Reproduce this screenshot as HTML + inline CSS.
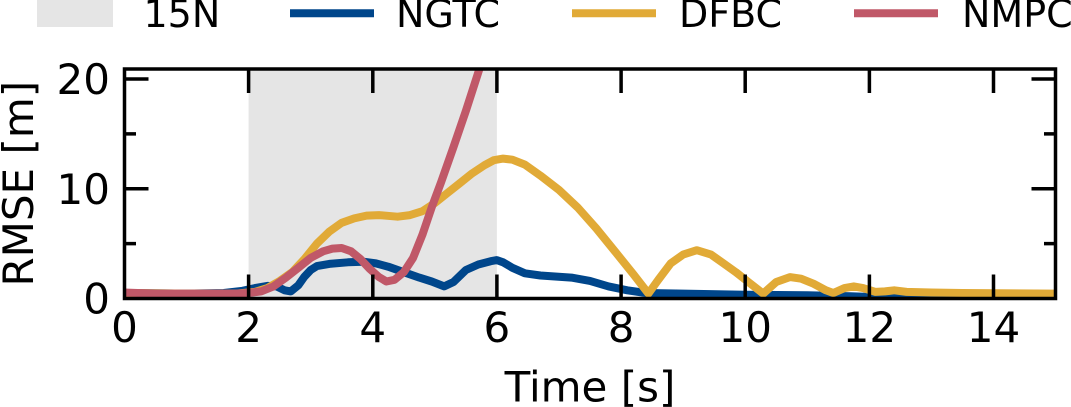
<!DOCTYPE html>
<html>
<head>
<meta charset="utf-8">
<style>
  html, body { margin: 0; padding: 0; background: #ffffff; }
  svg { display: block; }
  text { font-family: "DejaVu Sans", "Liberation Sans", sans-serif; fill: #000; }
</style>
</head>
<body>
<svg width="1071" height="407" viewBox="0 0 1071 407" xmlns="http://www.w3.org/2000/svg">
  <rect x="0" y="0" width="1071" height="407" fill="#ffffff"/>
  <defs>
    <clipPath id="ax">
      <rect x="124.5" y="69" width="931" height="229.5"/>
    </clipPath>
  </defs>

  <!-- shaded 15N region -->
  <rect x="248.6" y="69" width="248.3" height="229.5" fill="#e5e5e5"/>

  <!-- data series -->
  <g clip-path="url(#ax)" fill="none" stroke-linejoin="round" stroke-linecap="butt" stroke-width="8">
    <polyline stroke="#00468b"
      points="124.5,293.0 186.6,293.6 223.8,293.0 242.4,290.8 254.8,288.1 267.3,285.9 276.6,286.4 284.6,290.3 290.8,291.4 298.3,285.3 304.5,276.6 310.7,270.0 316.9,266.1 329.3,263.9 347.9,262.3 363.5,261.7 375.9,263.4 388.3,266.7 403.8,272.2 419.3,277.6 431.7,281.5 444.2,286.4 453.5,282.0 465.9,270.0 478.3,264.5 490.7,261.2 496.9,260.1 503.1,262.3 512.4,267.8 524.9,273.3 540.4,275.5 571.4,277.6 590.0,280.9 608.6,286.4 627.3,290.3 645.9,293.0 683.1,293.6 745.2,294.7 807.3,295.2 850.7,296.3 881.8,297.4 1055.6,297.4"/>
    <polyline stroke="#e1aa37"
      points="124.5,293.0 186.6,293.6 236.2,293.6 254.8,291.9 267.3,288.1 279.7,280.9 292.1,272.2 304.5,259.0 316.9,243.6 329.3,231.6 341.7,222.8 354.2,218.4 366.6,215.6 379.0,215.1 397.6,216.7 410.0,215.1 422.4,211.2 434.9,203.0 447.3,193.1 459.7,183.3 472.1,173.4 484.5,165.2 493.8,160.2 503.1,158.6 512.4,159.7 524.9,164.6 540.4,175.6 559.0,189.9 577.6,207.4 596.2,228.3 614.9,251.3 633.5,274.4 648.4,293.6 658.3,279.8 670.7,263.4 683.1,254.6 696.8,250.2 711.1,254.6 723.5,263.4 735.9,272.2 748.3,282.0 763.2,293.6 776.2,282.0 789.9,277.1 801.1,278.7 813.5,283.7 825.9,290.3 833.3,293.0 844.5,288.1 853.8,286.4 863.1,288.1 875.5,291.9 884.9,291.4 894.2,290.3 906.6,291.9 931.4,292.5 962.4,293.0 1055.6,293.6"/>
    <polyline stroke="#c05868"
      points="124.5,292.5 155.5,293.6 236.2,293.6 248.6,293.0 261.1,291.4 273.5,286.4 285.9,277.6 298.3,267.8 310.7,257.9 323.1,251.3 332.4,248.6 341.7,248.0 351.1,251.3 360.4,259.0 369.7,268.9 379.0,277.1 386.4,281.5 394.5,279.8 403.8,272.2 413.1,257.9 422.4,234.8 431.7,207.4 441.1,182.2 453.5,147.0 465.9,110.8 478.3,72.4 487.6,42.8"/>
  </g>

  <!-- ticks -->
  <g stroke="#000" stroke-width="3.5" fill="none">
    <path d="M248.6,298.5V274.5 M372.8,298.5V274.5 M496.9,298.5V274.5 M621.1,298.5V274.5 M745.2,298.5V274.5 M869.4,298.5V274.5 M993.5,298.5V274.5"/>
    <path d="M248.6,69V93 M372.8,69V93 M496.9,69V93 M621.1,69V93 M745.2,69V93 M869.4,69V93 M993.5,69V93"/>
    <path d="M124.5,188.75H148.5 M124.5,79H148.5 M1055.5,188.75H1031.5 M1055.5,79H1031.5"/>
    <path d="M124.5,243.6H136 M124.5,133.9H136 M1055.5,243.6H1044 M1055.5,133.9H1044"/>
  </g>

  <!-- spines -->
  <rect x="124.5" y="69" width="931" height="229.5" fill="none" stroke="#000" stroke-width="3.5"/>

  <!-- y tick labels -->
  <g font-size="42" text-anchor="end">
    <text x="110" y="94">20</text>
    <text x="110" y="204">10</text>
    <text x="110" y="313.5">0</text>
  </g>

  <!-- x tick labels -->
  <g font-size="42" text-anchor="middle">
    <text x="124.5" y="342">0</text>
    <text x="248.6" y="342">2</text>
    <text x="372.8" y="342">4</text>
    <text x="496.9" y="342">6</text>
    <text x="621.1" y="342">8</text>
    <text x="745.2" y="342">10</text>
    <text x="869.4" y="342">12</text>
    <text x="993.5" y="342">14</text>
  </g>

  <!-- axis labels -->
  <text x="590" y="401.5" font-size="42" text-anchor="middle">Time [s]</text>
  <text transform="translate(33,183.7) rotate(-90)" x="0" y="0" font-size="42" text-anchor="middle">RMSE [m]</text>

  <!-- legend -->
  <rect x="37" y="0" width="76" height="27" fill="#e5e5e5"/>
  <text x="143.5" y="27" font-size="38">15N</text>
  <line x1="290" y1="13.3" x2="374" y2="13.3" stroke="#00468b" stroke-width="8"/>
  <text x="396" y="27" font-size="38">NGTC</text>
  <line x1="572" y1="13.3" x2="656" y2="13.3" stroke="#e1aa37" stroke-width="8"/>
  <text x="679" y="27" font-size="38">DFBC</text>
  <line x1="854" y1="13.3" x2="938" y2="13.3" stroke="#c05868" stroke-width="8"/>
  <text x="962" y="27" font-size="38">NMPC</text>
</svg>
</body>
</html>
